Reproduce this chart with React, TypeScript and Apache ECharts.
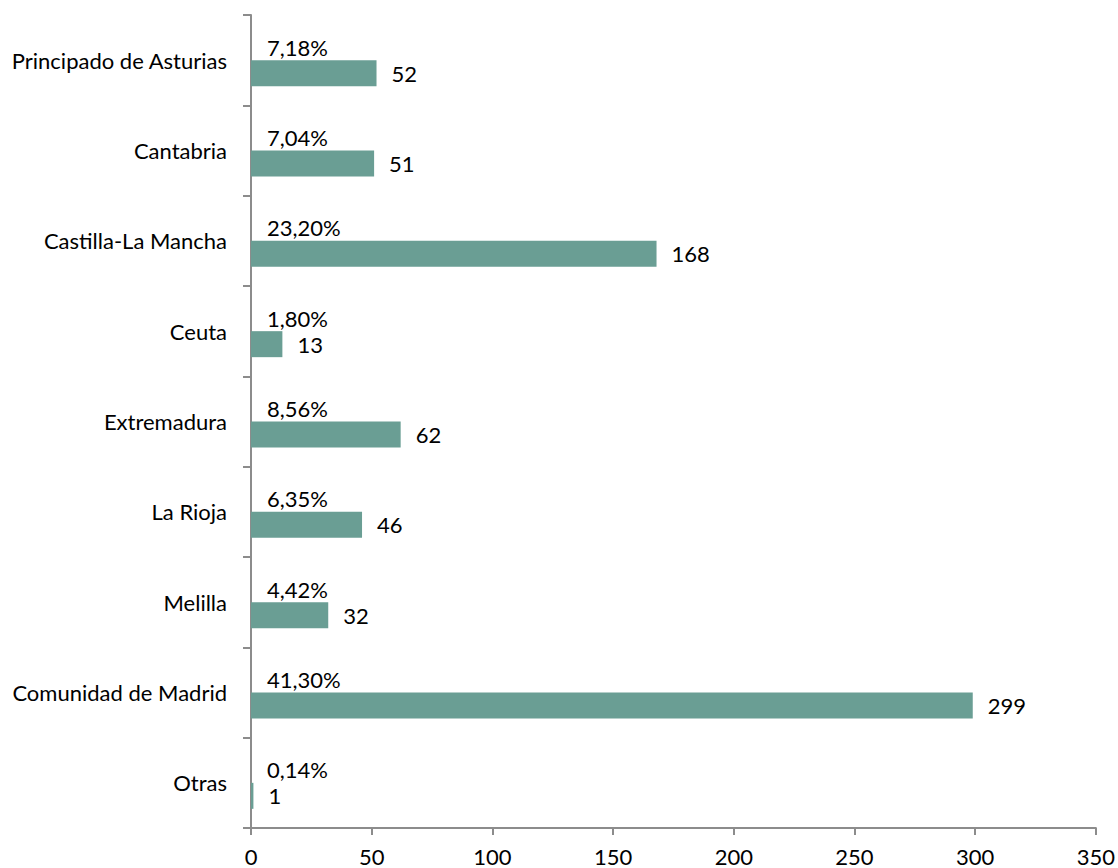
import React, { useEffect, useRef } from "react";
import * as echarts from "echarts";

const categories = [
  "Principado de Asturias",
  "Cantabria",
  "Castilla-La Mancha",
  "Ceuta",
  "Extremadura",
  "La Rioja",
  "Melilla",
  "Comunidad de Madrid",
  "Otras",
];
const values = [52, 51, 168, 13, 62, 46, 32, 299, 1];
const percents = [7.18, 7.04, 23.2, 1.8, 8.56, 6.35, 4.42, 41.3, 0.14];
const xTicks = { min: 0, max: 350, interval: 50 };

const FONT = "Lato";
const FS = 22;

export default function App() {
  const ref = useRef<HTMLDivElement>(null);
  useEffect(() => {
    if (!ref.current) return;
    const chart = echarts.init(ref.current, undefined, { renderer: "svg" });
    chart.setOption({
      animation: false,
      textStyle: { fontFamily: FONT },
      grid: { left: 251, top: 15, right: 20, bottom: 40, containLabel: false },
      xAxis: {
        type: "value",
        min: xTicks.min,
        max: xTicks.max,
        interval: xTicks.interval,
        axisLine: { show: true, lineStyle: { color: "#8c8c8c", width: 2 } },
        axisTick: { show: true, length: 7, lineStyle: { color: "#8c8c8c", width: 2 } },
        splitLine: { show: false },
        axisLabel: { color: "#000", fontSize: FS, fontFamily: FONT, margin: 17 },
      },
      yAxis: {
        type: "category",
        data: categories,
        inverse: true,
        axisLine: { show: true, lineStyle: { color: "#8c8c8c", width: 2 } },
        axisTick: { show: true, length: 8, lineStyle: { color: "#8c8c8c", width: 2 } },
        axisLabel: { color: "#000", fontSize: FS, fontFamily: FONT, margin: 24 },
        splitLine: { show: false },
      },
      series: [
        {
          type: "bar",
          data: percents,
          barWidth: 26,
          barGap: "0%",
          itemStyle: { color: "rgba(0,0,0,0)" },
          silent: true,
          label: {
            show: true,
            position: "insideLeft",
            distance: 16,
            color: "#000",
            fontSize: FS,
            fontFamily: FONT,
            formatter: (p: any) => p.value.toFixed(2).replace(".", ",") + "%",
          },
        },
        {
          type: "bar",
          data: values,
          barWidth: 26,
          barGap: "0%",
          itemStyle: { color: "#6a9e94" },
          label: {
            show: true,
            position: "right",
            distance: 15,
            color: "#000",
            fontSize: FS,
            fontFamily: FONT,
          },
        },
      ],
    });
    return () => chart.dispose();
  }, []);
  return (
    <div
      ref={ref}
      style={{ position: "absolute", left: 0, top: 0, width: 1118, height: 868, background: "#fff" }}
    />
  );
}
